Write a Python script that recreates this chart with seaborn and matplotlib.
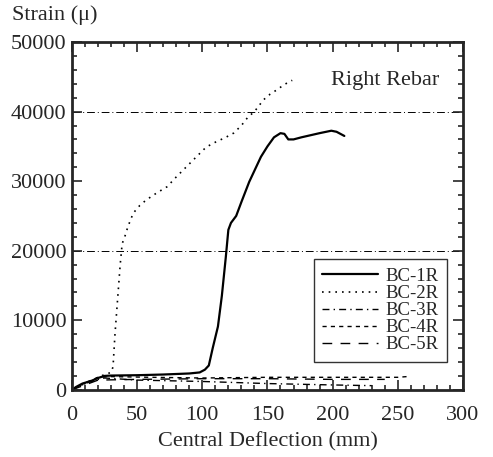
import numpy as np
import pandas as pd
import matplotlib
matplotlib.use("Agg")
import matplotlib.pyplot as plt
from matplotlib.ticker import MultipleLocator
import seaborn as sns

# ------------------ Data ------------------
bc1_x = [0, 3, 8, 15, 20, 25, 30, 50, 70, 90, 98, 102, 105, 108, 112, 115, 118, 120, 122, 126,
         130, 136, 140, 145, 150, 155, 160, 163, 166, 170, 176, 183, 190, 199, 203, 209]
bc1_y = [0, 400, 900, 1300, 1700, 2000, 2050, 2100, 2200, 2350, 2500, 2900, 3500, 6000, 9100,
         13500, 19000, 23000, 24000, 25000, 27000, 29900, 31500, 33500, 35000, 36300, 36900,
         36800, 36000, 36000, 36300, 36600, 36900, 37250, 37100, 36500]

bc2_x = [0, 5, 10, 15, 20, 25, 30, 31.5, 33, 35, 37, 38.5, 40.5, 43, 47, 52, 57, 65, 73, 80,
         88, 96, 103, 110, 118, 124, 130, 135, 140, 147, 152, 157, 163, 169]
bc2_y = [0, 500, 900, 1300, 1800, 2200, 2500, 3300, 8000, 13000, 18000, 21000, 22000, 23500,
         25400, 26500, 27300, 28300, 29200, 30600, 32100, 33600, 34900, 35600, 36300, 36900,
         38000, 39200, 40000, 41700, 42500, 43100, 43900, 44500]

bc3_x = [0, 10, 20, 25, 50, 100, 150, 200, 230]
bc3_y = [0, 900, 1500, 1700, 1400, 1200, 900, 700, 600]

bc4_x = [0, 10, 20, 30, 60, 100, 150, 200, 250, 257]
bc4_y = [0, 1000, 1800, 1900, 1800, 1700, 1800, 1800, 1800, 1900]

bc5_x = [0, 20, 50, 100, 150, 200, 240]
bc5_y = [0, 1400, 1500, 1600, 1600, 1500, 1500]

labels = ["BC-1R", "BC-2R", "BC-3R", "BC-4R", "BC-5R"]
grid_levels = [20000, 40000]

# ------------------ Plot ------------------
sns.set_style("ticks")
plt.rcParams["font.family"] = ["Liberation Serif", "DejaVu Serif"]

FS = 16
fig = plt.figure(figsize=(4.93, 4.57), dpi=100)
ax = fig.add_axes([0.146, 0.147, 0.793, 0.761])

series = [(bc1_x, bc1_y), (bc2_x, bc2_y), (bc3_x, bc3_y), (bc4_x, bc4_y), (bc5_x, bc5_y)]
styles = ["-", (0, (1, 3)), (0, (5, 3, 1, 3)), (0, (3, 3)), (0, (7, 6))]
widths = [1.6, 1.2, 1.0, 1.0, 1.0]

for (xs, ys), lab, ls, lw in zip(series, labels, styles, widths):
    df = pd.DataFrame({"x": xs, "y": ys})
    sns.lineplot(data=df, x="x", y="y", ax=ax, color="black", linestyle=ls, linewidth=lw,
                 sort=False, estimator=None, label=lab)

for g in grid_levels:
    ax.axhline(g, color="black", linestyle=(0, (8, 3, 1, 3)), linewidth=0.7, zorder=0)

ax.set_xlim(0, 300)
ax.set_ylim(0, 50000)
ax.xaxis.set_major_locator(MultipleLocator(50))
ax.xaxis.set_minor_locator(MultipleLocator(10))
ax.yaxis.set_major_locator(MultipleLocator(10000))
ax.yaxis.set_minor_locator(MultipleLocator(2000))
ax.tick_params(which="both", direction="in", top=True, right=True, labelsize=FS, width=1.2)
ax.tick_params(which="major", length=7)
ax.tick_params(which="minor", length=3.5)
ax.tick_params(axis="x", which="major", pad=11.5)
ax.tick_params(axis="y", which="major", pad=4)
for sp in ax.spines.values():
    sp.set_linewidth(2.0)

ax.set_xlabel("Central Deflection (mm)", fontsize=FS, labelpad=5)
ax.set_ylabel("")
fig.text(0.024, 0.967, "Strain (μ)", fontsize=FS, ha="left", va="center")
ax.text(282, 44500, "Right Rebar", fontsize=FS, ha="right", va="center")

leg = ax.legend(loc="upper right", bbox_to_anchor=(0.96, 0.375), fontsize=13.5,
                frameon=True, fancybox=False, edgecolor="black", handlelength=3.0,
                labelspacing=0.0, borderpad=0.45, handletextpad=0.4, borderaxespad=0)
leg.get_frame().set_linewidth(1.0)

fig.savefig("out.png", dpi=100)
